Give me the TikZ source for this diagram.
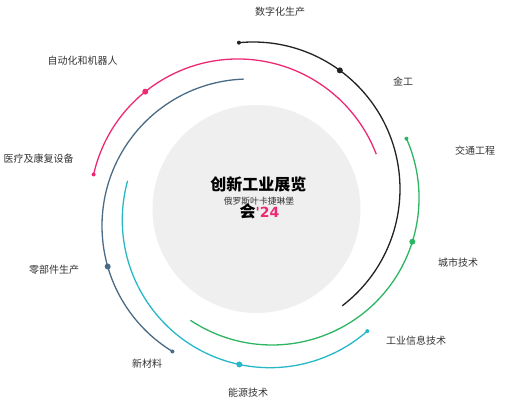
\documentclass[tikz,border=0pt]{standalone}
\usepackage{fontspec}
\setmainfont{Noto Sans CJK SC}
\newfontfamily\latinsans{DejaVu Sans}
\usetikzlibrary{calc}
\definecolor{arcblack}{HTML}{222222}
\definecolor{arcpink}{HTML}{EC2A74}
\definecolor{arcblue}{HTML}{4B6B84}
\definecolor{arcteal}{HTML}{26B8C6}
\definecolor{arcgreen}{HTML}{2DB562}
\definecolor{disc}{HTML}{EFEFEF}
\definecolor{labeltext}{HTML}{333333}
\tikzset{
  ring/.style={line width=1.3pt},
  bigdot/.style={circle, fill, inner sep=0pt, minimum size=6pt},
  smalldot/.style={circle, fill, inner sep=0pt, minimum size=4pt},
  lbl/.style={font=\fontsize{10}{12}\selectfont, text=labeltext, inner sep=0pt}
}
\begin{document}
\begin{tikzpicture}[x=1pt,y=1pt]
\useasboundingbox (0,0) rectangle (506,405);
% central disc
\coordinate (c0) at (256.5,196);
\fill[disc] (c0) circle[radius=104];
% black arc
\coordinate (cb) at (253,216);
\draw[ring, arcblack] (cb) ++(95.5:147) arc[start angle=95.5, end angle=-52.6, radius=147];
\node[smalldot, arcblack] (db1) at ($(cb)+(95.5:147)$) {};
\node[bigdot, arcblack] (db2) at ($(cb)+(53.8:147)$) {};
% pink arc
\coordinate (cp) at (238,198);
\draw[ring, arcpink] (cp) ++(167.3:148) arc[start angle=167.3, end angle=20.9, radius=148];
\node[smalldot, arcpink] (dp1) at ($(cp)+(167.3:148)$) {};
\node[bigdot, arcpink] (dp2) at ($(cp)+(128.8:148)$) {};
% blue-gray arc
\coordinate (cg) at (249,179);
\draw[ring, arcblue] (cg) ++(92.1:147) arc[start angle=92.1, end angle=238.6, radius=147];
\node[bigdot, arcblue] (dg1) at ($(cg)+(196:147)$) {};
\node[smalldot, arcblue] (dg2) at ($(cg)+(238.6:147)$) {};
% teal arc
\coordinate (ct) at (270,185);
\draw[ring, arcteal] (ct) ++(164.6:147.7) arc[start angle=164.6, end angle=311.2, radius=147.7];
\node[bigdot, arcteal] (dt1) at ($(ct)+(258:147.7)$) {};
\node[smalldot, arcteal] (dt2) at ($(ct)+(311.2:147.7)$) {};
% green arc
\coordinate (cn) at (272,207);
\draw[ring, arcgreen] (cn) ++(23.8:147) arc[start angle=23.8, end angle=-123.7, radius=147];
\node[smalldot, arcgreen] (dn1) at ($(cn)+(23.8:147)$) {};
\node[bigdot, arcgreen] (dn2) at ($(cn)+(-17.3:147)$) {};
% labels
\node[lbl] (l1) at (280,393) {数字化生产};
\node[lbl] (l2) at (403,323) {金工};
\node[lbl] (l3) at (82.7,344) {自动化和机器人};
\node[lbl] (l4) at (38.7,246) {医疗及康复设备};
\node[lbl] (l5) at (475,254) {交通工程};
\node[lbl] (l6) at (458,142) {城市技术};
\node[lbl] (l7) at (54,135) {零部件生产};
\node[lbl] (l8) at (147,41) {新材料};
\node[lbl] (l9) at (248,12) {能源技术};
\node[lbl] (l10) at (416,64) {工业信息技术};
% title
\node[inner sep=0pt, font=\fontsize{16}{18}\selectfont\bfseries] (t1) at (258.3,220.7) {创新工业展览};
\node[inner sep=0pt, font=\fontsize{8.8}{10}\selectfont, text=labeltext] (t2) at (259,203.3) {俄罗斯叶卡捷琳堡};
\node[inner sep=0pt, font=\fontsize{16}{18}\selectfont\bfseries] (t3) at (259.5,193.3) {会{\latinsans\bfseries\fontsize{14}{16}\selectfont\color{arcpink}'24}};
\end{tikzpicture}
\end{document}
